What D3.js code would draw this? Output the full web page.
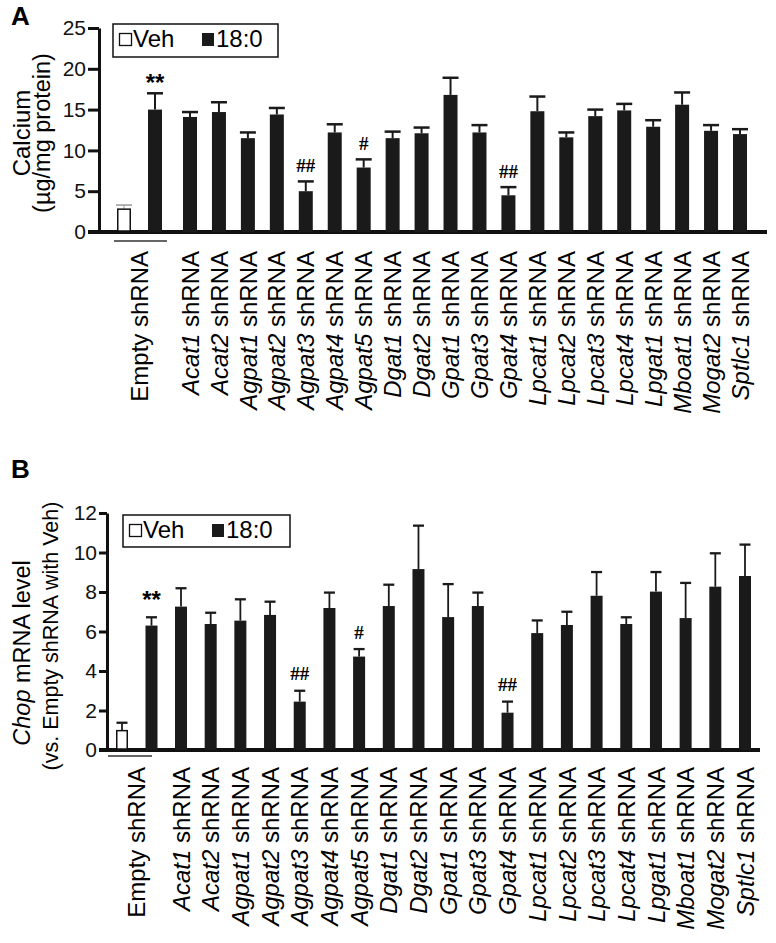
<!DOCTYPE html>
<html>
<head>
<meta charset="utf-8">
<script src="https://cdn.jsdelivr.net/npm/d3@7"></script>
<style>
  html, body { margin: 0; padding: 0; background: #fff; }
  svg { display: block; font-family: "Liberation Sans", Arial, Helvetica, sans-serif; }
</style>
</head>
<body>
<svg id="chart" width="776" height="943"></svg>
<script>
// ---------- data ----------
const genes = ["Acat1","Acat2","Agpat1","Agpat2","Agpat3","Agpat4","Agpat5","Dgat1","Dgat2",
  "Gpat1","Gpat3","Gpat4","Lpcat1","Lpcat2","Lpcat3","Lpcat4","Lpgat1","Mboat1","Mogat2","Sptlc1"];
const treatments = ["Veh", "18:0"];

// Panel A: calcium (µg/mg protein)
const calciumCtrl    = [2.8, 15.0];
const calciumCtrlSem = [0.5, 2.0];
const calciumGene    = [14.1,14.7,11.5,14.4,5.0,12.2,7.9,11.5,12.1,16.8,12.2,4.5,14.8,11.6,14.2,14.9,12.9,15.6,12.4,12.0];
const calciumGeneSem = [0.6,1.2,0.7,0.8,1.2,1.0,1.0,0.8,0.7,2.1,0.9,1.0,1.8,0.6,0.8,0.8,0.8,1.5,0.7,0.6];
const calciumTicks   = [0,5,10,15,20,25];
const calciumMarks   = [{gene:"Empty", text:"**"},{gene:"Agpat3", text:"##"},{gene:"Agpat5", text:"#"},{gene:"Gpat4", text:"##"}];

// Panel B: Chop mRNA level
const chopCtrl    = [0.98, 6.3];
const chopCtrlSem = [0.40, 0.42];
const chopGene    = [7.26,6.38,6.55,6.84,2.45,7.19,4.73,7.29,9.16,6.73,7.29,1.89,5.92,6.33,7.81,6.38,8.02,6.68,8.27,8.81];
const chopGeneSem = [0.93,0.57,1.08,0.67,0.55,0.78,0.38,1.08,2.20,1.67,0.68,0.56,0.64,0.67,1.20,0.34,0.99,1.78,1.69,1.59];
const chopTicks   = [0,2,4,6,8,10,12];
const chopMarks   = [{gene:"Empty", text:"**"},{gene:"Agpat3", text:"##"},{gene:"Agpat5", text:"#"},{gene:"Gpat4", text:"##"}];

// ---------- drawing ----------
const svg = d3.select("#chart");
const BAR = "#1a1a1a";

function panel(o) {
  const g = svg.append("g");
  const y = d3.scaleLinear().domain(o.domain).range([o.y0, o.y1]);
  const xg = d3.scalePoint().domain(genes).range(o.geneRange);
  const xc = d3.scalePoint().domain(treatments).range(o.ctrlRange);

  // panel letter
  g.append("text").attr("x", o.letterX).attr("y", o.letterY)
    .attr("font-size", 26).attr("font-weight", "bold").text(o.letter);

  // y axis
  const ax = g.append("g").attr("transform", `translate(${o.axisX},0)`)
    .call(d3.axisLeft(y).tickValues(o.ticks).tickSize(o.tickLen).tickSizeOuter(0).tickPadding(2));
  ax.select(".domain").attr("stroke", "#111").attr("stroke-width", 3);
  ax.selectAll(".tick line").attr("stroke", "#111").attr("stroke-width", 3);
  ax.selectAll(".tick text").attr("font-size", o.tickFont).attr("fill", "#111")
    .attr("font-family", "Liberation Sans, Arial, sans-serif");

  // baseline
  g.append("line").attr("x1", o.axisX - o.tickLen).attr("x2", o.baseEnd)
    .attr("y1", y(0)).attr("y2", y(0)).attr("stroke", "#111").attr("stroke-width", 4);

  // error bars helper (upper half only)
  function err(x, v, s, capW, sw, col) {
    g.append("line").attr("x1", x).attr("x2", x).attr("y1", y(v)).attr("y2", y(v + s))
      .attr("stroke", col).attr("stroke-width", sw);
    g.append("line").attr("x1", x - capW / 2).attr("x2", x + capW / 2)
      .attr("y1", y(v + s)).attr("y2", y(v + s)).attr("stroke", col).attr("stroke-width", sw + 0.5);
  }

  // control bars
  treatments.forEach((t, i) => {
    const x = xc(t);
    const v = o.ctrl[i], s = o.ctrlSem[i];
    if (i === 0) {
      err(x, v, s, o.capW, o.vehErrW, o.vehErrCol);
      g.append("rect").attr("x", x - o.barW / 2 + 0.75).attr("y", y(v))
        .attr("width", o.barW - 1.5).attr("height", y(0) - y(v) - 1)
        .attr("fill", "#fff").attr("stroke", "#111").attr("stroke-width", 1.5);
    } else {
      err(x, v, s, o.capW, o.errW, "#1a1a1a");
      g.append("rect").attr("x", x - o.barW / 2).attr("y", y(v))
        .attr("width", o.barW).attr("height", y(0) - y(v)).attr("fill", BAR);
    }
  });

  // gene bars
  genes.forEach((gn, i) => {
    const x = xg(gn);
    const v = o.vals[i], s = o.sems[i];
    err(x, v, s, o.capW, o.errW, "#1a1a1a");
    g.append("rect").attr("x", x - o.barW / 2).attr("y", y(v))
      .attr("width", o.barW).attr("height", y(0) - y(v)).attr("fill", BAR);
  });

  // significance marks
  o.marks.forEach(m => {
    let x, top;
    if (m.gene === "Empty") { x = xc("18:0"); top = o.ctrl[1] + o.ctrlSem[1]; }
    else { const i = genes.indexOf(m.gene); x = xg(m.gene); top = o.vals[i] + o.sems[i]; }
    const isStar = m.text.startsWith("*");
    g.append("text").attr("x", x)
      .attr("y", isStar ? y(top) - o.starOff : y(top) - o.hashOff)
      .attr("text-anchor", "middle")
      .attr("font-size", isStar ? 24 : 19)
      .attr("font-weight", "bold")
      .attr("font-family", isStar ? "Liberation Sans, Arial, sans-serif" : "Liberation Serif, serif")
      .attr("dy", isStar ? "0" : "0.35em")
      .text(m.text);
  });

  // group line under Empty
  g.append("line").attr("x1", o.groupLine[0]).attr("x2", o.groupLine[1])
    .attr("y1", o.groupLineY).attr("y2", o.groupLineY).attr("stroke", "#333").attr("stroke-width", 1.5);

  // x labels
  const emptyX = (xc("Veh") + xc("18:0")) / 2;
  g.append("text").attr("transform", `translate(${emptyX},${o.labelTop}) rotate(-90)`)
    .attr("text-anchor", "end").attr("dy", "0.36em").attr("font-size", o.labFont)
    .text("Empty shRNA");
  genes.forEach(gn => {
    const t = g.append("text").attr("transform", `translate(${xg(gn)},${o.labelTop}) rotate(-90)`)
      .attr("text-anchor", "end").attr("dy", "0.36em").attr("font-size", o.labFont);
    t.append("tspan").attr("font-style", "italic").text(gn);
    t.append("tspan").text(" shRNA");
  });

  // y title
  o.titles.forEach(tt => {
    const t = g.append("text").attr("transform", `translate(${tt.x},${tt.y}) rotate(-90)`)
      .attr("text-anchor", "middle").attr("font-size", tt.size);
    tt.parts.forEach(p => t.append("tspan").attr("font-style", p.it ? "italic" : "normal").text(p.t));
  });

  // legend
  const L = o.legend;
  g.append("rect").attr("x", L.x).attr("y", L.y).attr("width", L.w).attr("height", L.h)
    .attr("fill", "#fff").attr("stroke", "#111").attr("stroke-width", 1.5);
  g.append("rect").attr("x", L.x + 6.5).attr("y", L.base - 13.5).attr("width", 12).attr("height", 12)
    .attr("fill", "#fff").attr("stroke", "#111").attr("stroke-width", 1.3);
  g.append("text").attr("x", L.x + 20).attr("y", L.base).attr("font-size", L.font).text("Veh");
  g.append("rect").attr("x", L.x + 89).attr("y", L.base - 14).attr("width", 12).attr("height", 13)
    .attr("fill", BAR);
  g.append("text").attr("x", L.x + 103).attr("y", L.base).attr("font-size", L.font).text("18:0");
}

panel({
  letter: "A", letterX: 11, letterY: 25,
  domain: [0, 25], y0: 232, y1: 28, ticks: calciumTicks, tickLen: 11, tickFont: 21,
  axisX: 99, baseEnd: 767,
  geneRange: [190, 740], ctrlRange: [124, 155],
  ctrl: calciumCtrl, ctrlSem: calciumCtrlSem, vals: calciumGene, sems: calciumGeneSem,
  barW: 14, capW: 16, errW: 2, vehErrW: 1, vehErrCol: "#999",
  marks: calciumMarks, starOff: 2, hashOff: 16,
  groupLine: [114, 167], groupLineY: 241,
  labelTop: 251, labFont: 24,
  titles: [
    {x: 30, y: 133, size: 24, parts: [{t: "Calcium"}]},
    {x: 50, y: 133, size: 23.5, parts: [{t: "(µg/mg protein)"}]}
  ],
  legend: {x: 113, y: 24, w: 165, h: 33, base: 47, font: 24}
});

panel({
  letter: "B", letterX: 11, letterY: 478,
  domain: [0, 12], y0: 750, y1: 513, ticks: chopTicks, tickLen: 8, tickFont: 21,
  axisX: 107, baseEnd: 760,
  geneRange: [181, 745], ctrlRange: [122, 151.5],
  ctrl: chopCtrl, ctrlSem: chopCtrlSem, vals: chopGene, sems: chopGeneSem,
  barW: 12, capW: 11, errW: 1.8, vehErrW: 1.8, vehErrCol: "#1a1a1a",
  marks: chopMarks, starOff: 9, hashOff: 17,
  groupLine: [108, 152], groupLineY: 756,
  labelTop: 767, labFont: 24,
  titles: [
    {x: 30, y: 653, size: 23.5, parts: [{t: "Chop", it: true}, {t: " mRNA level"}]},
    {x: 58, y: 636, size: 21.5, parts: [{t: "(vs. Empty shRNA with Veh)"}]}
  ],
  legend: {x: 123, y: 515, w: 167, h: 32, base: 538, font: 24}
});
</script>
</body>
</html>
